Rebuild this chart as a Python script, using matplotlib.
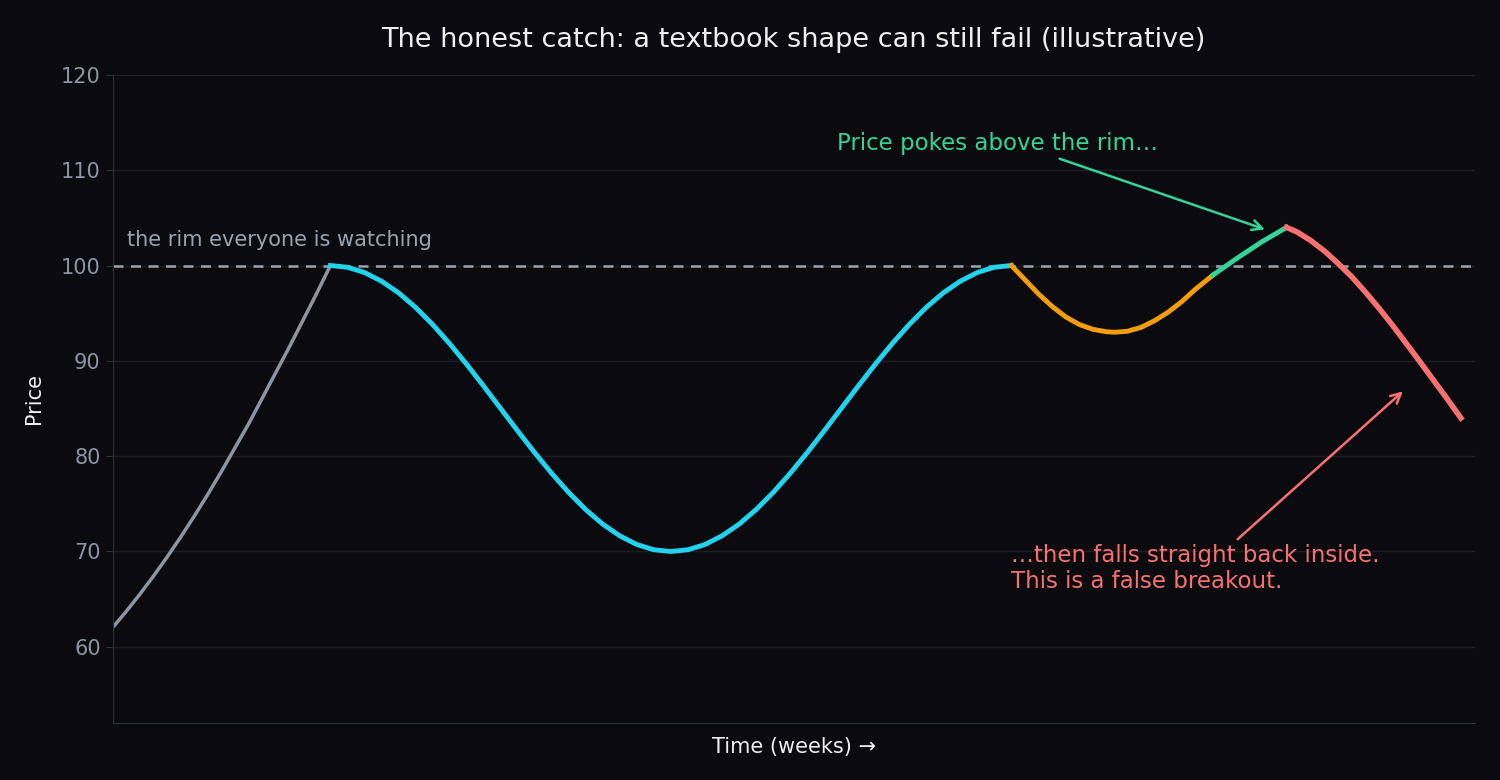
import matplotlib.pyplot as plt

# values (x in arbitrary week units, 0..100)
gray_x = [0, 1, 2, 3, 4, 5, 6, 7, 8, 9, 10, 11, 12, 13, 14, 15, 16]
gray_y = [62, 63.7, 65.5, 67.4, 69.4, 71.5, 73.7, 76.0, 78.4, 80.9, 83.4,
          86.1, 88.8, 91.5, 94.3, 97.1, 100]
cyan_x = [16, 17.25, 18.5, 19.75, 21, 22.25, 23.5, 24.75, 26, 27.25, 28.5,
          29.75, 31, 32.25, 33.5, 34.75, 36, 37.25, 38.5, 39.75, 41,
          42.25, 43.5, 44.75, 46, 47.25, 48.5, 49.75, 51, 52.25, 53.5,
          54.75, 56, 57.25, 58.5, 59.75, 61, 62.25, 63.5, 64.75, 66]
cyan_y = [100, 99.82, 99.27, 98.36, 97.14, 95.61, 93.82, 91.81, 89.64, 87.35, 85,
          82.65, 80.36, 78.19, 76.18, 74.39, 72.86, 71.64, 70.73, 70.18, 70,
          70.18, 70.73, 71.64, 72.86, 74.39, 76.18, 78.19, 80.36, 82.65, 85,
          87.35, 89.64, 91.81, 93.82, 95.61, 97.14, 98.36, 99.27, 99.82, 100]
orange_x = [66, 67, 68, 69, 70, 71, 72, 73, 73.6, 74.5, 75.5, 76.5, 77.5, 78.5, 79.5, 80.8]
orange_y = [100, 98.5, 97, 95.7, 94.6, 93.8, 93.3, 93.05, 93, 93.1, 93.5, 94.2,
            95.1, 96.2, 97.5, 99]
green_x = [80.8, 82.6, 84.4, 86.2]
green_y = [99, 100.8, 102.5, 104]
red_x = [86.2, 87, 88, 89, 90, 91, 92, 93, 94, 95, 96, 97, 98, 99]
red_y = [104, 103.5, 102.6, 101.5, 100.2, 98.8, 97.2, 95.5, 93.7, 91.8, 89.9,
         87.95, 86.0, 84]
rim = 100

BG = '#0b0b0f'
fig, ax = plt.subplots(figsize=(15, 7.8), dpi=100)
fig.patch.set_facecolor(BG)
ax.set_facecolor(BG)
fig.subplots_adjust(left=0.075, right=0.983, top=0.904, bottom=0.073)

ax.axhline(rim, color='#9ca3af', ls='--', lw=1.8, dashes=(4, 3))
ax.plot(gray_x, gray_y, color='#8b95a5', lw=2.5)
ax.plot(cyan_x, cyan_y, color='#22d3ee', lw=3.5)
ax.plot(orange_x, orange_y, color='#f59e0b', lw=3.5)
ax.plot(green_x, green_y, color='#34d399', lw=3.5)
ax.plot(red_x, red_y, color='#f87171', lw=4)

ax.text(1.1, 102, 'the rim everyone is watching', color='#9ca3af', fontsize=15)
ax.annotate('Price pokes above the rim…', xy=(84.8, 103.7), xytext=(53.2, 112.8),
            color='#34d399', fontsize=16.5, va='center',
            arrowprops=dict(arrowstyle='->', color='#34d399', lw=1.8, mutation_scale=18,
                            relpos=(0.66, 0)))
ax.annotate('…then falls straight back inside.\nThis is a false breakout.',
            xy=(94.9, 87.0), xytext=(66, 68.2), color='#f87171', fontsize=16.5, va='center',
            arrowprops=dict(arrowstyle='->', color='#f87171', lw=1.8, mutation_scale=18,
                            relpos=(0.6, 1)))

ax.set_xlim(0, 100)
ax.set_ylim(52, 120)
ax.set_yticks(range(60, 121, 10))
ax.set_xticks([])
ax.grid(axis='y', color='#1c1e26', lw=1)
ax.set_axisbelow(True)
ax.tick_params(axis='y', colors='#8b95a5', labelsize=15, length=5)
ax.tick_params(axis='y', color='#2a3040')
for s in ['top', 'right']:
    ax.spines[s].set_visible(False)
for s in ['left', 'bottom']:
    ax.spines[s].set_color('#2a3040')
ax.set_title('The honest catch: a textbook shape can still fail (illustrative)',
             color='#eeeeee', fontsize=19.5, pad=20)
ax.set_xlabel('Time (weeks) →', color='#eeeeee', fontsize=15, labelpad=10)
ax.set_ylabel('Price', color='#eeeeee', fontsize=15, labelpad=12)

fig.savefig('out.png', facecolor=BG)
